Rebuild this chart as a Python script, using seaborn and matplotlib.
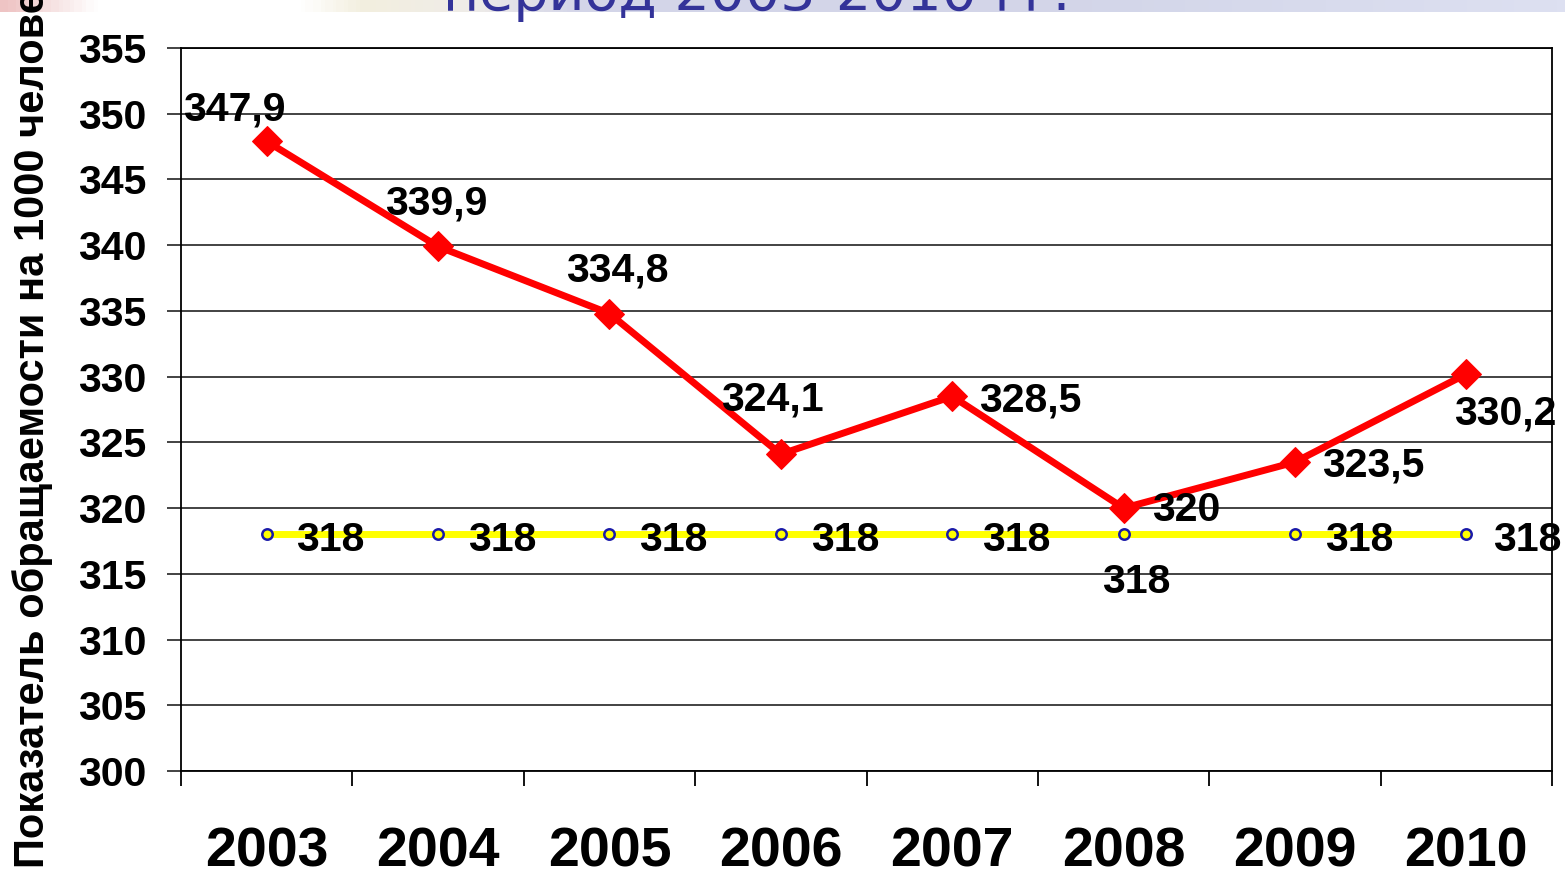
import numpy as np
import pandas as pd
import matplotlib
matplotlib.use('Agg')
import matplotlib.pyplot as plt
from matplotlib.colors import LinearSegmentedColormap
from matplotlib.ticker import FixedLocator, MultipleLocator
import seaborn as sns

# data
years = ['2003', '2004', '2005', '2006', '2007', '2008', '2009', '2010']
rate = [347.9, 339.9, 334.8, 324.1, 328.5, 320.0, 323.5, 330.2]
rate_labels = ['347,9', '339,9', '334,8', '324,1', '328,5', '320', '323,5', '330,2']
baseline = [318, 318, 318, 318, 318, 318, 318, 318]
baseline_labels = ['318', '318', '318', '318', '318', '318', '318', '318']
y_ticks = [300, 305, 310, 315, 320, 325, 330, 335, 340, 345, 350, 355]

title = 'период 2003-2010 гг.'
ylabel = 'Показатель обращаемости на 1000 человек'

# label offsets in pixels (dx, dy) relative to each point
rate_offsets = [(-32, 32), (-2, 43), (8, 43), (-8, 55), (78, -4), (63, -2), (78, -3), (39, -39)]
base_offsets = [(64, -6)] * 5 + [(13, -48)] + [(64, -6), (61, -6)]

sns.set_theme(style='white')
plt.rcParams['font.family'] = ['Liberation Sans', 'DejaVu Sans']

W, H = 1565, 872
fig = plt.figure(figsize=(W / 100, H / 100), dpi=100)
fig.patch.set_facecolor('white')

# slide header strip (gradient), mostly cut off
strip = fig.add_axes([0, 1 - 12 / H, 1, 12 / H])
cmap = LinearSegmentedColormap.from_list('strip', [
    (0.0, '#eec4c4'), (0.03, '#f6e2e2'), (0.06, '#ffffff'), (0.19, '#ffffff'),
    (0.23, '#f3efdf'), (0.30, '#efece8'), (0.37, '#d3d5e8'), (0.7, '#d3d6e9'),
    (1.0, '#dde0f1')])
strip.imshow(np.linspace(0, 1, 400)[None, :], aspect='auto', cmap=cmap,
             extent=[0, 1, 0, 1])
strip.set_axis_off()

fig.text(757 / W, 1 - 10 / H, title, color='#333399', fontsize=40,
         ha='center', va='baseline', family=['DejaVu Sans'])

ax = fig.add_axes([181 / W, 101 / H, 1371 / W, 723 / H])
df = pd.DataFrame({'pos': np.arange(len(years)), 'year': years,
                   'rate': rate, 'base': baseline})

sns.lineplot(data=df, x='pos', y='base', ax=ax, color='#ffff00', lw=5,
             marker='o', markersize=7.5, markerfacecolor='#ffff00',
             markeredgecolor='#1a1aa8', markeredgewidth=1.8, zorder=3)
sns.lineplot(data=df, x='pos', y='rate', ax=ax, color='#ff0000', lw=5,
             marker='D', markersize=15, markerfacecolor='#ff0000',
             markeredgecolor='#ff0000', zorder=4)

for i, (v, lab) in enumerate(zip(rate, rate_labels)):
    dx, dy = rate_offsets[i]
    ax.annotate(lab, (i, v), xytext=(dx, dy), textcoords='offset pixels',
                ha='center', va='center', fontsize=29.5, fontweight='bold',
                color='black', zorder=5, annotation_clip=False)
for i, (v, lab) in enumerate(zip(baseline, baseline_labels)):
    dx, dy = base_offsets[i]
    ax.annotate(lab, (i, v), xytext=(dx, dy), textcoords='offset pixels',
                ha='center', va='center', fontsize=29.5, fontweight='bold',
                color='black', zorder=5, annotation_clip=False)

ax.set_xlim(-0.5, len(years) - 0.5)
ax.set_ylim(300, 355)
ax.yaxis.set_major_locator(FixedLocator(y_ticks))
ax.grid(axis='y', color='#222222', lw=1.2)
ax.grid(axis='x', visible=False)
ax.set_axisbelow(True)

ax.set_xticks(df['pos'])
ax.set_xticklabels(years)
ax.xaxis.set_minor_locator(MultipleLocator(1, offset=0.5))
ax.tick_params(axis='x', which='major', length=0, pad=40,
               labelsize=40, labelcolor='black')
ax.tick_params(axis='x', which='minor', bottom=True, length=11, width=1.3,
               color='black', direction='out')
ax.tick_params(axis='y', which='major', left=True, length=10, width=1.2,
               color='#222222', direction='out', pad=15, labelsize=29.5,
               labelcolor='black')
for t in ax.get_xticklabels() + ax.get_yticklabels():
    t.set_fontweight('bold')

for side in ['left', 'right', 'top', 'bottom']:
    ax.spines[side].set_visible(True)
    ax.spines[side].set_color('black')
    ax.spines[side].set_linewidth(1.3)
ax.set_xlabel('')
ax.set_ylabel('')

fig.text(33 / W, 1 - 868 / H, ylabel, rotation=90, ha='center', va='bottom',
         fontsize=30, fontweight='bold', color='black')

fig.savefig('out.png', dpi=100)
